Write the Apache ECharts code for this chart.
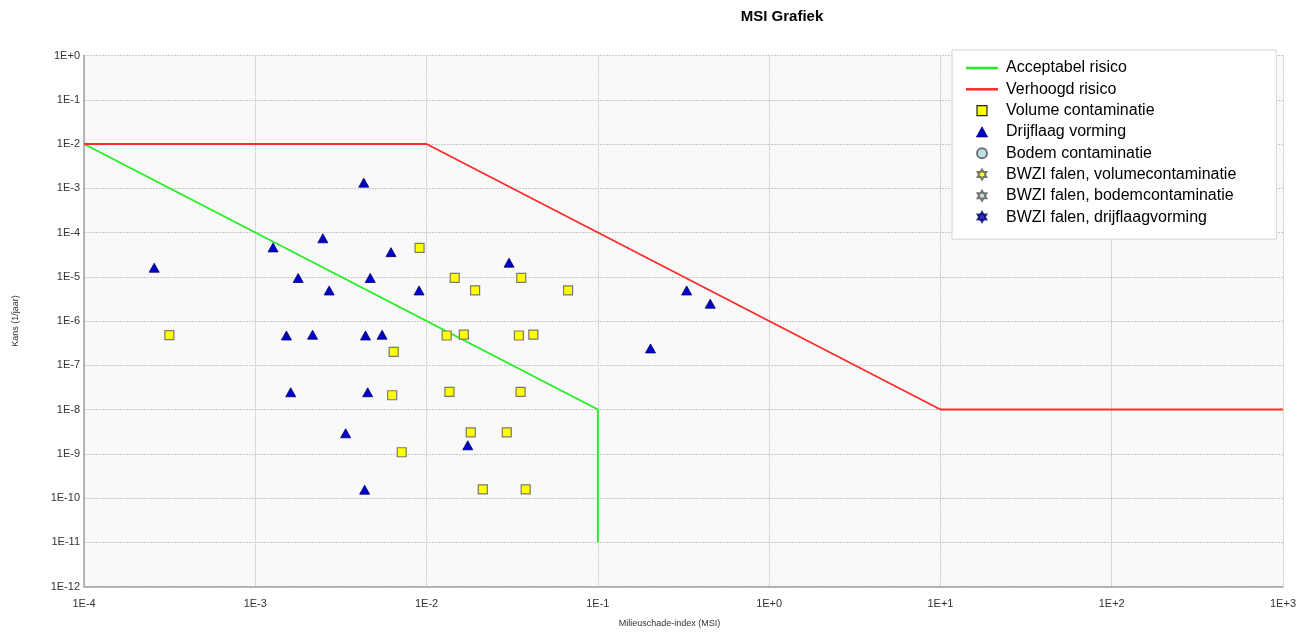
<!DOCTYPE html>
<html>
<head>
<meta charset="utf-8">
<script src="https://cdn.jsdelivr.net/npm/echarts@6/dist/echarts.min.js"></script>
<style>
  html, body { margin: 0; padding: 0; background: #ffffff; }
  #chart { width: 1313px; height: 634px; }
</style>
</head>
<body>
<div id="chart"></div>
<script>
// Reference lines
const acceptabelX = [1e-4, 1e-1, 1e-1];
const acceptabelY = [1e-2, 1e-8, 1e-11];
const verhoogdX = [1e-4, 1e-2, 1e1, 1e3];
const verhoogdY = [1e-2, 1e-2, 1e-8, 1e-8];

// Volume contaminatie (squares)
const volumeX = [3.15e-4, 9.1e-3, 1.46e-2, 1.92e-2, 3.57e-2, 6.7e-2, 6.43e-3, 1.31e-2, 1.65e-2, 3.46e-2,
                 4.2e-2, 6.3e-3, 1.36e-2, 3.54e-2, 1.81e-2, 2.94e-2, 7.16e-3, 2.13e-2, 3.79e-2];
const volumeY = [4.8e-7, 4.5e-5, 9.4e-6, 4.9e-6, 9.4e-6, 4.9e-6, 2.0e-7, 4.7e-7, 4.9e-7, 4.7e-7,
                 4.9e-7, 2.1e-8, 2.5e-8, 2.5e-8, 3.05e-9, 3.05e-9, 1.08e-9, 1.57e-10, 1.57e-10];

// Drijflaag vorming (triangles)
const drijfX = [2.57e-4, 1.27e-3, 2.48e-3, 4.3e-3, 1.78e-3, 2.7e-3, 4.69e-3, 6.2e-3, 9.04e-3, 3.03e-2,
                0.33, 0.453, 1.52e-3, 2.16e-3, 4.4e-3, 5.5e-3, 1.61e-3, 4.53e-3, 3.37e-3, 1.74e-2,
                4.35e-3, 0.203];
const drijfY = [1.6e-5, 4.6e-5, 7.4e-5, 1.34e-3, 9.4e-6, 4.9e-6, 9.4e-6, 3.6e-5, 4.9e-6, 2.08e-5,
                4.9e-6, 2.46e-6, 4.7e-7, 4.9e-7, 4.7e-7, 4.9e-7, 2.45e-8, 2.45e-8, 2.9e-9, 1.55e-9,
                1.54e-10, 2.4e-7];

// Empty series (legend only)
const bodemX = [], bodemY = [];

const seriesNames = ['Acceptabel risico', 'Verhoogd risico', 'Volume contaminatie', 'Drijflaag vorming',
  'Bodem contaminatie', 'BWZI falen, volumecontaminatie', 'BWZI falen, bodemcontaminatie', 'BWZI falen, drijflaagvorming'];

const xMin = 1e-4, xMax = 1e3, yMin = 1e-12, yMax = 1;

function zip(xs, ys) { return xs.map((x, i) => [x, ys[i]]); }
function sci(v) {
  const e = Math.round(Math.log10(v));
  return '1E' + (e >= 0 ? '+' : '') + e;
}
const star6 = 'path://M50,0 L64.4,25 L93.3,25 L78.9,50 L93.3,75 L64.4,75 L50,100 L35.6,75 L6.7,75 L21.1,50 L6.7,25 L35.6,25 Z';
const lineIcon = 'path://M0,0 L64,0 L64,5 L0,5 Z';
const squareIcon = 'path://M0,0 L10,0 L10,10 L0,10 Z';
const triIcon = 'path://M5,0 L10,9 L0,9 Z';
const FONT = 'Liberation Sans, Arial, sans-serif';

const GREEN = '#22ee22', RED = '#ff2a2a';

const chart = echarts.init(document.getElementById('chart'), null, { renderer: 'canvas' });
chart.setOption({
  animation: false,
  backgroundColor: '#ffffff',
  title: {
    text: 'MSI Grafiek',
    left: 782, top: 9, padding: 0, textAlign: 'center',
    textStyle: { fontFamily: FONT, fontSize: 15, fontWeight: 'bold', color: '#000' }
  },
  legend: {
    orient: 'vertical',
    left: 952, top: 50,
    padding: [10, 40, 14, 14],
    backgroundColor: '#ffffff',
    borderColor: '#d4d4d4', borderWidth: 1,
    itemWidth: 32, itemHeight: 10, itemGap: 5.3,
    textStyle: { fontFamily: FONT, fontSize: 16, color: '#000', padding: [0, 0, 0, 3] },
    data: [
      { name: seriesNames[0], icon: lineIcon, itemStyle: { color: GREEN, borderWidth: 0 } },
      { name: seriesNames[1], icon: lineIcon, itemStyle: { color: RED, borderWidth: 0 } },
      { name: seriesNames[2], icon: squareIcon, itemStyle: { color: '#ffff00', borderColor: '#222', borderWidth: 1.2 } },
      { name: seriesNames[3], icon: triIcon, itemStyle: { color: '#0000c8', borderColor: '#00006a', borderWidth: 0.8 } },
      { name: seriesNames[4], icon: 'circle' },
      { name: seriesNames[5], icon: star6 },
      { name: seriesNames[6], icon: star6 },
      { name: seriesNames[7], icon: star6 }
    ]
  },
  grid: {
    left: 84, right: 30, top: 55.5, bottom: 47.5,
    show: true, backgroundColor: '#f9f9f9', borderWidth: 0
  },
  xAxis: {
    type: 'log', logBase: 10, min: xMin, max: xMax, interval: 1,
    name: 'Milieuschade-index (MSI)', nameLocation: 'middle', nameGap: 33,
    nameTextStyle: { fontFamily: FONT, fontSize: 9, color: '#333', padding: [0, 28, 0, 0] },
    axisLine: { show: true, lineStyle: { color: '#a0a0a0', width: 1.5 } },
    axisTick: { show: false },
    axisLabel: { formatter: sci, fontFamily: FONT, fontSize: 11, color: '#333', margin: 12 },
    splitLine: { show: true, lineStyle: { color: '#c8c8c8', type: [2, 1], width: 1 } },
    minorTick: { show: false }, minorSplitLine: { show: false }
  },
  yAxis: {
    type: 'log', logBase: 10, min: yMin, max: yMax, interval: 1,
    name: 'Kans (1/jaar)', nameLocation: 'middle', nameGap: 64,
    nameTextStyle: { fontFamily: FONT, fontSize: 9, color: '#333' },
    axisLine: { show: true, lineStyle: { color: '#a0a0a0', width: 1.5 } },
    axisTick: { show: false },
    axisLabel: { formatter: sci, fontFamily: FONT, fontSize: 11, color: '#333', margin: 4 },
    splitLine: { show: true, lineStyle: { color: '#c8c8c8', type: [2, 1], width: 1 } },
    minorTick: { show: false }, minorSplitLine: { show: false }
  },
  series: [
    {
      name: seriesNames[0], type: 'line', data: zip(acceptabelX, acceptabelY),
      symbol: 'none', lineStyle: { color: GREEN, width: 1.8 }, itemStyle: { color: GREEN }, z: 3
    },
    {
      name: seriesNames[1], type: 'line', data: zip(verhoogdX, verhoogdY),
      symbol: 'none', lineStyle: { color: RED, width: 1.8 }, itemStyle: { color: RED }, z: 3
    },
    {
      name: seriesNames[2], type: 'scatter', data: zip(volumeX, volumeY),
      symbol: 'rect', symbolSize: 9,
      itemStyle: { color: '#ffff00', borderColor: '#7a7a6a', borderWidth: 1.2, opacity: 1 }, z: 4
    },
    {
      name: seriesNames[3], type: 'scatter', data: zip(drijfX, drijfY),
      symbol: 'triangle', symbolSize: [10, 9],
      itemStyle: { color: '#0000c8', borderColor: '#00006a', borderWidth: 0.8, opacity: 1 }, z: 4
    },
    {
      name: seriesNames[4], type: 'scatter', data: zip(bodemX, bodemY),
      symbol: 'circle', symbolSize: 9,
      itemStyle: { color: '#add8e6', borderColor: '#555', borderWidth: 1 }
    },
    {
      name: seriesNames[5], type: 'scatter', data: zip(bodemX, bodemY),
      symbol: star6, symbolSize: 11,
      itemStyle: { color: '#ffff00', borderColor: '#555', borderWidth: 1 }
    },
    {
      name: seriesNames[6], type: 'scatter', data: zip(bodemX, bodemY),
      symbol: star6, symbolSize: 11,
      itemStyle: { color: '#add8e6', borderColor: '#555', borderWidth: 1 }
    },
    {
      name: seriesNames[7], type: 'scatter', data: zip(bodemX, bodemY),
      symbol: star6, symbolSize: 11,
      itemStyle: { color: '#0000c8', borderColor: '#00006a', borderWidth: 1 }
    }
  ]
});
</script>
</body>
</html>
